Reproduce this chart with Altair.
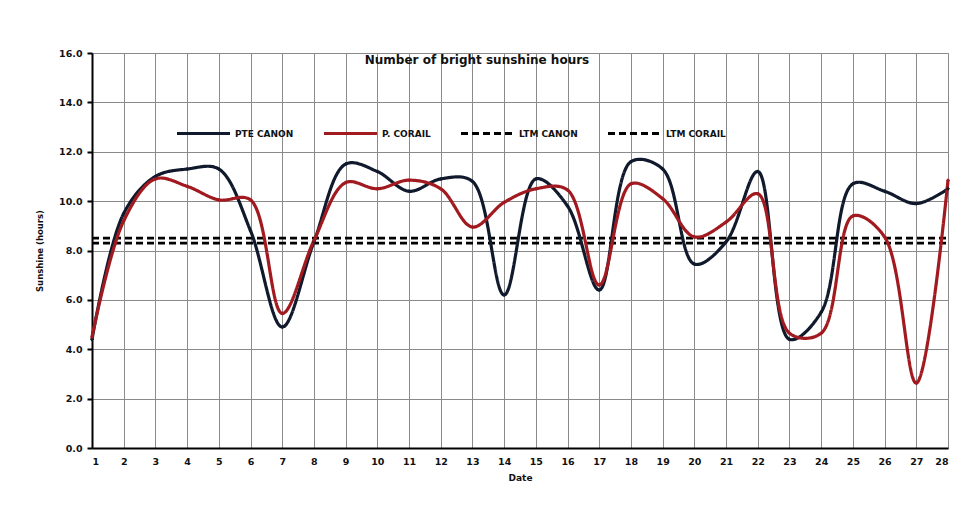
import altair as alt
import pandas as pd

days = list(range(1, 29))
pte_canon = [4.4, 9.5, 11.0, 11.3, 11.3, 8.8, 4.9, 8.35, 11.5, 11.2, 10.4, 10.9, 10.8, 6.2,
             10.9, 9.8, 6.4, 11.6, 11.3, 7.45, 8.35, 11.2, 4.4, 5.5, 10.7, 10.4, 9.9, 10.5]
p_corail = [4.5, 9.2, 10.9, 10.6, 10.05, 10.05, 5.45, 8.4, 10.75, 10.5, 10.85, 10.5, 8.95, 9.95,
            10.5, 10.45, 6.6, 10.7, 10.1, 8.55, 9.15, 10.3, 4.65, 4.65, 9.4, 8.55, 2.63, 10.85]
ltm_canon = 8.5
ltm_corail = 8.3

series_names = ["PTE CANON", "P. CORAIL", "LTM CANON", "LTM CORAIL"]
series_colors = ["#101a2c", "#a11a20", "#000000", "#000000"]
series_dash = [[1, 0], [1, 0], [7, 4], [7, 4]]

daily = pd.DataFrame(
    [{"day": d, "value": v, "series": "PTE CANON"} for d, v in zip(days, pte_canon)]
    + [{"day": d, "value": v, "series": "P. CORAIL"} for d, v in zip(days, p_corail)]
)
ltm = pd.DataFrame(
    [{"day": d, "value": ltm_canon, "series": "LTM CANON"} for d in (days[0], days[-1])]
    + [{"day": d, "value": ltm_corail, "series": "LTM CORAIL"} for d in (days[0], days[-1])]
)

FONT = "DejaVu Sans"

x_enc = alt.X(
    "day:Q",
    scale=alt.Scale(domain=[1, 28], nice=False, zero=False),
    axis=alt.Axis(
        values=days, format="d", grid=True, gridColor="#8a8a8a", gridWidth=1,
        domainColor="black", domainWidth=2, ticks=False,
        labelFont=FONT, labelFontWeight="bold", labelFontSize=9.5, labelColor="#111",
        labelPadding=8, title="Date", titleFont=FONT, titleFontSize=9,
        titleFontWeight="bold", titlePadding=8, titleColor="#111",
    ),
)
y_enc = alt.Y(
    "value:Q",
    scale=alt.Scale(domain=[0, 16], nice=False),
    axis=alt.Axis(
        values=list(range(0, 17, 2)), format=".1f", grid=True, gridColor="#8a8a8a",
        gridWidth=1, domainColor="black", domainWidth=2, tickColor="black",
        tickSize=5, tickWidth=2, labelFont=FONT, labelFontWeight="bold",
        labelFontSize=9.5, labelColor="#111", labelPadding=5,
        title="Sunshine (hours)", titleFont=FONT, titleFontSize=8.5,
        titleFontWeight="bold", titlePadding=14, titleColor="#111",
    ),
)

legend = alt.Legend(
    orient="none", legendX=83, legendY=52, direction="horizontal", title=None,
    symbolType="stroke", symbolSize=2809, symbolStrokeWidth=3.2,
    labelFont=FONT, labelFontSize=9, labelFontWeight="bold", labelColor="#111",
    labelOffset=3, columnPadding=23, padding=0, gridAlign="none",
)
color_enc = alt.Color(
    "series:N", scale=alt.Scale(domain=series_names, range=series_colors), legend=legend
)
dash_enc = alt.StrokeDash(
    "series:N", scale=alt.Scale(domain=series_names, range=series_dash), legend=legend
)

lines = alt.Chart(daily).mark_line(interpolate="catmull-rom", strokeWidth=3.2).encode(
    x=x_enc, y=y_enc, color=color_enc, strokeDash=dash_enc
)
points = alt.Chart(daily).mark_point(shape="diamond", filled=True, size=16, opacity=1).encode(
    x=x_enc, y=y_enc, color=color_enc
)
ltm_lines = alt.Chart(ltm).mark_line(strokeWidth=2.6).encode(
    x=x_enc, y=y_enc, color=color_enc, strokeDash=dash_enc
)

chart = (
    alt.layer(ltm_lines, lines, points)
    .properties(
        width=856, height=395,
        autosize=alt.AutoSizeParams(type="none"),
        padding={"left": 84, "top": 45, "right": 2, "bottom": 45},
        title=alt.TitleParams(
            "Number of bright sunshine hours", font=FONT, fontSize=12,
            fontWeight="bold", color="#111", anchor="middle", offset=-19, dx=-43,
        ),
    )
    .configure_view(fill="#fcf4e4", stroke="#8a8a8a")
    .configure(background="white")
)

chart.save("out.html", embed_options={"renderer": "svg", "actions": False})
